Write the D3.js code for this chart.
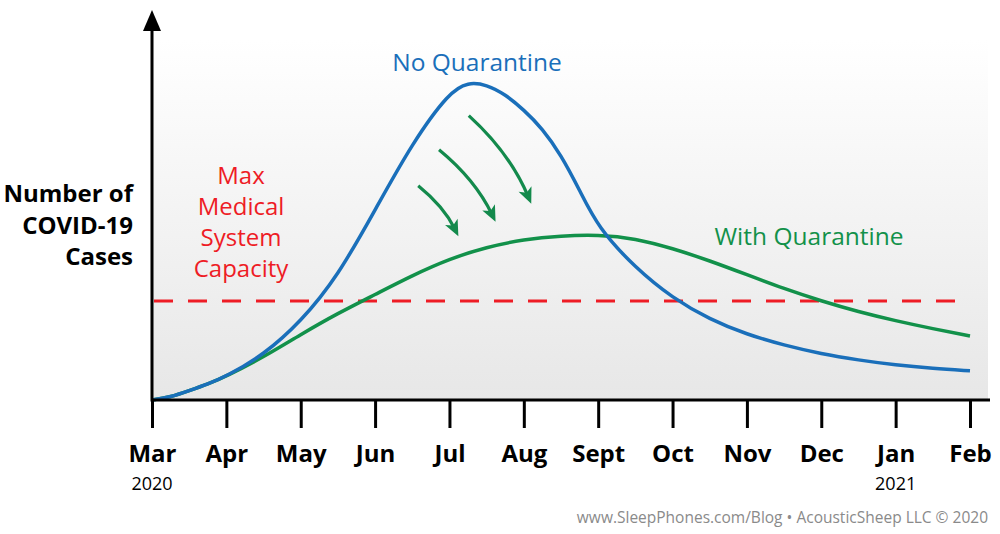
<!DOCTYPE html>
<html>
<head>
<meta charset="utf-8">
<script src="https://cdn.jsdelivr.net/npm/d3@7"></script>
<style>
  html, body { margin: 0; padding: 0; background: #fff; }
  svg { display: block; font-family: "Open Sans", Lato, sans-serif; }
</style>
</head>
<body>
<svg id="chart" width="1000" height="534"></svg>
<script>
// ---- data ----
const months = ["Mar", "Apr", "May", "Jun", "Jul", "Aug", "Sept", "Oct", "Nov", "Dec", "Jan", "Feb"];
const yearLabels = [{ month: 0, label: "2020" }, { month: 10, label: "2021" }];
// month index (0 = Mar 2020), relative number of cases
const noQuarantineX = [0, 0.25, 0.5, 0.75, 1, 1.5, 2, 2.5, 3, 3.5, 4, 4.25, 4.5, 4.75, 5, 5.25, 5.5, 5.75, 6, 6.5, 7, 7.5, 8, 8.5, 9, 9.5, 10, 10.5, 11];
const noQuarantineY = [0, 0.8, 2.6, 4.4, 6.6, 12.5, 21.7, 34.4, 52.8, 71.4, 85.6, 88.3, 87.6, 84.9, 80.6, 75.4, 68.1, 58.3, 47.8, 36.7, 28.3, 22.4, 18.2, 15.2, 12.8, 11.1, 9.7, 8.75, 8.1];
const withQuarantineX = [0, 0.25, 0.5, 0.75, 1, 1.5, 2, 2.5, 3, 3.5, 4, 4.5, 5, 5.5, 6, 6.5, 7, 7.5, 8, 8.5, 9, 9.5, 10, 10.5, 11];
const withQuarantineY = [0, 0.8, 2.6, 4.4, 6.6, 11.9, 18.2, 24.1, 29.3, 34.6, 39.2, 42.5, 44.6, 45.6, 45.9, 44.9, 42.1, 38.7, 34.8, 30.9, 27.5, 24.5, 22, 19.8, 17.8];
const capacity = 27.5;
// arrow annotations: [startMonth, startValue, endMonth, endValue]
const arrows = [[3.58, 59.5, 4.12, 45.5], [3.86, 69.5, 4.62, 49.5], [4.26, 79, 5.1, 54.5]];

// ---- layout ----
const svg = d3.select("#chart");
const x = d3.scaleLinear().domain([0, 11]).range([152, 970]);
const y = d3.scaleLinear().domain([0, 100]).range([400, 40]);

const defs = svg.append("defs");
const grad = defs.append("linearGradient").attr("id", "bg").attr("x1", 0).attr("y1", 0).attr("x2", 0).attr("y2", 1);
grad.append("stop").attr("offset", "0%").attr("stop-color", "#ffffff");
grad.append("stop").attr("offset", "100%").attr("stop-color", "#e7e7e7");

svg.append("rect").attr("x", 152).attr("y", 40).attr("width", 836).attr("height", 360).attr("fill", "url(#bg)");

// capacity line
svg.append("line")
  .attr("x1", x(0) + 2).attr("x2", x(11))
  .attr("y1", y(capacity)).attr("y2", y(capacity))
  .attr("stroke", "#ee1c25").attr("stroke-width", 3.2)
  .attr("stroke-dasharray", "19,15");

const line = d3.line().x(d => x(d[0])).y(d => y(d[1])).curve(d3.curveBasis);

const greenData = withQuarantineX.map((v, i) => [v, withQuarantineY[i]]);
const blueData = noQuarantineX.map((v, i) => [v, noQuarantineY[i]]);

svg.append("path").attr("d", line(greenData)).attr("fill", "none")
  .attr("stroke", "#12914a").attr("stroke-width", 3.5);
svg.append("path").attr("d", line(blueData)).attr("fill", "none")
  .attr("stroke", "#1a6fba").attr("stroke-width", 3.5);

// arrows
const arrowColor = "#138a4c";
arrows.forEach(a => {
  const x0 = x(a[0]), y0 = y(a[1]), x1 = x(a[2]), y1 = y(a[3]);
  const mx = (x0 + x1) / 2, my = (y0 + y1) / 2;
  const dx = x1 - x0, dy = y1 - y0, len = Math.hypot(dx, dy);
  const nx = -dy / len, ny = dx / len; // normal
  const bow = -len * 0.11;
  const cx = mx + nx * bow, cy = my + ny * bow;
  const tx = x1 - cx, ty = y1 - cy, tl = Math.hypot(tx, ty);
  const ux = tx / tl, uy = ty / tl;
  const hl = 16, hw = 7;
  const bx = x1 - ux * hl, by = y1 - uy * hl;
  svg.append("path")
    .attr("d", `M${x0},${y0} Q${cx},${cy} ${x1 - ux * 8},${y1 - uy * 8}`)
    .attr("fill", "none").attr("stroke", arrowColor).attr("stroke-width", 3.2);
  svg.append("path")
    .attr("d", `M${x1},${y1} L${bx - uy * hw},${by + ux * hw} L${bx + ux * 4},${by + uy * 4} L${bx + uy * hw},${by - ux * hw} Z`)
    .attr("fill", arrowColor);
});

// x axis
const xAxis = d3.axisBottom(x).tickValues(d3.range(months.length))
  .tickFormat(i => months[i]).tickSize(28).tickPadding(12);
const gx = svg.append("g").attr("transform", "translate(0,400)").call(xAxis);
gx.select(".domain").attr("d", `M${x(0)},0H990`).attr("stroke", "#000").attr("stroke-width", 3);
gx.selectAll(".tick line").attr("stroke", "#000").attr("stroke-width", 3);
gx.selectAll(".tick text").attr("fill", "#000").attr("font-size", 24).attr("font-weight", 700)
  .attr("font-family", "'Open Sans', sans-serif").attr("dy", "0.92em");

svg.selectAll(".year").data(yearLabels).enter().append("text")
  .attr("x", d => x(d.month)).attr("y", 490)
  .attr("text-anchor", "middle").attr("font-size", 18).attr("fill", "#000")
  .text(d => d.label);

// y axis with arrow
svg.append("line").attr("x1", 152).attr("x2", 152).attr("y1", 401.5).attr("y2", 26)
  .attr("stroke", "#000").attr("stroke-width", 3);
svg.append("path").attr("d", "M152,10 L161,31 L143,31 Z").attr("fill", "#000");

// labels
const yLab = svg.append("text").attr("text-anchor", "end").attr("font-size", 24).attr("font-weight", 700).attr("fill", "#000");
["Number of", "COVID-19", "Cases"].forEach((t, i) => {
  yLab.append("tspan").attr("x", 133).attr("y", 202 + i * 31.5).text(t);
});

const capLab = svg.append("text").attr("text-anchor", "middle").attr("font-size", 24).attr("fill", "#ee1c25");
["Max", "Medical", "System", "Capacity"].forEach((t, i) => {
  capLab.append("tspan").attr("x", 241).attr("y", 184 + i * 31).text(t);
});

svg.append("text").attr("x", 477).attr("y", 71).attr("text-anchor", "middle")
  .attr("font-size", 24.5).attr("fill", "#1a6fba").text("No Quarantine");
svg.append("text").attr("x", 809).attr("y", 245).attr("text-anchor", "middle")
  .attr("font-size", 24.5).attr("fill", "#12914a").text("With Quarantine");

svg.append("text").attr("x", 988).attr("y", 523).attr("text-anchor", "end")
  .attr("font-size", 15.5).attr("fill", "#8a8a8a")
  .text("www.SleepPhones.com/Blog  •  AcousticSheep LLC © 2020");
</script>
</body>
</html>
